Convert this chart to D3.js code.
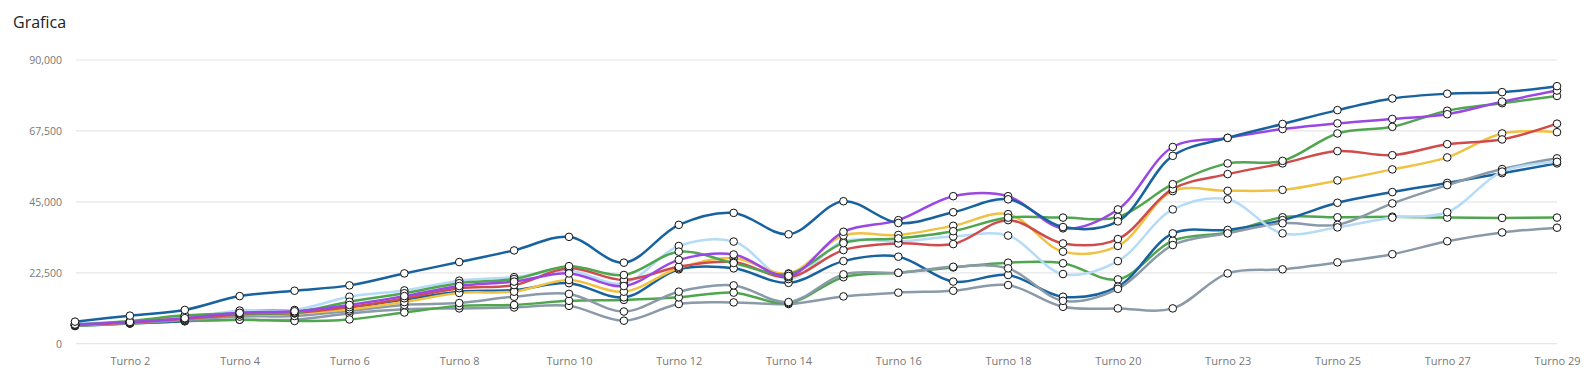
<!DOCTYPE html>
<html>
<head>
  <title>Grafica</title>
  <script src="https://d3js.org/d3.v7.min.js"></script>
  <style>
    body { margin: 0; background: #fff; }
    text { font-family: "Open Sans", sans-serif; }
  </style>
</head>
<body>
  <div id="chart"></div>
  <script>
    // categories (turns) - one turn is skipped between 20 and 23
    const turni = ["Turno 1", "Turno 2", "Turno 3", "Turno 4", "Turno 5", "Turno 6", "Turno 7",
                   "Turno 8", "Turno 9", "Turno 10", "Turno 11", "Turno 12", "Turno 13", "Turno 14",
                   "Turno 15", "Turno 16", "Turno 17", "Turno 18", "Turno 19", "Turno 20", "Turno 21",
                   "Turno 23", "Turno 24", "Turno 25", "Turno 26", "Turno 27", "Turno 28", "Turno 29"];

    // series values
    const serie1 = [7000, 8900, 10700, 15100, 16800, 18500, 22300, 25900, 29600, 33900, 25700, 37700, 41500, 34700,
                    45200, 38300, 41700, 45800, 37000, 38800, 59600, 65300, 69700, 74100, 77800, 79300, 79800, 81700];
    const serie2 = [6300, 7000, 8000, 10500, 10700, 14900, 16900, 20000, 21100, 23200, 19200, 31000, 32400, 20500,
                    32400, 32400, 34000, 34300, 22100, 26200, 42600, 45800, 35000, 36900, 40000, 41700, 54600, 57700];
    const serie3 = [6000, 7200, 9000, 9600, 9900, 13300, 16000, 19200, 20500, 24600, 21800, 29200, 25600, 22100,
                    31900, 33400, 35700, 40000, 40000, 40200, 50600, 57200, 58000, 66700, 68800, 73900, 76300, 78600];
    const serie4 = [5900, 6700, 7900, 9300, 9700, 11600, 14400, 17600, 18600, 23900, 20200, 24400, 25900, 21100,
                    29700, 31800, 31600, 39200, 31800, 33200, 49100, 53800, 57200, 61100, 59800, 63300, 64800, 69800];
    const serie5 = [5900, 7000, 8800, 9200, 9600, 10900, 13200, 16100, 16500, 20200, 16500, 24000, 27200, 22300,
                    34300, 34500, 37400, 41100, 29200, 31000, 48400, 48500, 48800, 51800, 55300, 59100, 66700, 67100];
    const serie6 = [6100, 6900, 8100, 9800, 10300, 12300, 15100, 18300, 19700, 22300, 18300, 26600, 28300, 21500,
                    35500, 39200, 46800, 46800, 36600, 42600, 62400, 65300, 68100, 69900, 71300, 72800, 76800, 80300];
    const serie7 = [5800, 6500, 7500, 8600, 8800, 10400, 12300, 12900, 14900, 15800, 10200, 16500, 18500, 13200,
                    22000, 22500, 24400, 23900, 13600, 17400, 31300, 35000, 38200, 37700, 44500, 50300, 55400, 58800];
    const serie8 = [6300, 6600, 7300, 10300, 10500, 11500, 14000, 16500, 17000, 19200, 14700, 23600, 23900, 19300,
                    26200, 27600, 19700, 21800, 14900, 18100, 35000, 36100, 39200, 44700, 48100, 51000, 54100, 57200];
    const serie9 = [5600, 6400, 7200, 7600, 7200, 7700, 9900, 12000, 12300, 13600, 13900, 14700, 16200, 12900,
                    21100, 22500, 24200, 25700, 25500, 20400, 32700, 35300, 40100, 40100, 40300, 40000, 39900, 40000];
    const serie10 = [5700, 6400, 7100, 7600, 7600, 9600, 10900, 11200, 11500, 12000, 7300, 12600, 13100, 12600,
                     15000, 16200, 16800, 18600, 11700, 11200, 11200, 22300, 23600, 25800, 28400, 32500, 35300, 36800];

    const yTicks = [0, 22500, 45000, 67500, 90000];

    const series = [serie10, serie9, serie8, serie7, serie2, serie5, serie4, serie3, serie6, serie1];
    const colors = ["#8a9aa8", "#4fa64f", "#17629f", "#8a9aa8", "#b5dbf7", "#f0c244", "#d04b4b", "#4fa64f", "#9b47e4", "#17629f"];

    const width = 1593, height = 387;

    const svg = d3.select("#chart")
                  .append("svg")
                  .attr("width", width)
                  .attr("height", height);

    svg.append("text")
       .attr("x", 13)
       .attr("y", 28)
       .attr("font-size", 16)
       .attr("fill", "#222")
       .text("Grafica");

    const x = d3.scalePoint()
                .domain(turni)
                .range([75, 1557]);

    const y = d3.scaleLinear()
                .domain([0, 90000])
                .range([343.7, 60]);

    // grid
    svg.append("g")
       .selectAll("line")
       .data(yTicks)
       .enter()
       .append("line")
       .attr("x1", 76)
       .attr("x2", 1557)
       .attr("y1", d => y(d))
       .attr("y2", d => y(d))
       .attr("stroke", "#e6e6e6")
       .attr("stroke-width", 1.2);

    // Y axis
    const yAxis = svg.append("g")
       .attr("transform", "translate(75,0)")
       .call(d3.axisLeft(y).tickValues(yTicks).tickSize(0).tickPadding(13).tickFormat(d3.format(",")));
    yAxis.select(".domain").remove();
    yAxis.selectAll("text").attr("fill", "#777").attr("font-size", 10.5).attr("font-family", "Open Sans, sans-serif");

    // X axis
    const xAxis = svg.append("g")
       .attr("transform", `translate(0,${y(0)})`)
       .call(d3.axisBottom(x).tickValues(turni.filter((d, i) => i % 2 === 1)).tickSize(0).tickPadding(14));
    xAxis.select(".domain").remove();
    xAxis.selectAll("text").attr("fill", "#777").attr("font-size", 11).attr("font-family", "Open Sans, sans-serif");

    const line = d3.line()
                   .x((d, i) => x(turni[i]))
                   .y(d => y(d))
                   .curve(d3.curveCatmullRom.alpha(0.5));

    svg.selectAll(".serie")
       .data(series)
       .enter()
       .append("path")
       .attr("class", "serie")
       .attr("d", d => line(d))
       .attr("fill", "none")
       .attr("stroke", (d, i) => colors[i])
       .attr("stroke-width", 2.5);

    // points
    series.forEach(s => {
      svg.append("g")
         .selectAll("circle")
         .data(s)
         .enter()
         .append("circle")
         .attr("cx", (d, i) => x(turni[i]))
         .attr("cy", d => y(d))
         .attr("r", 3.8)
         .attr("fill", "#fff")
         .attr("stroke", "#111")
         .attr("stroke-width", 1);
    });
  </script>
</body>
</html>
